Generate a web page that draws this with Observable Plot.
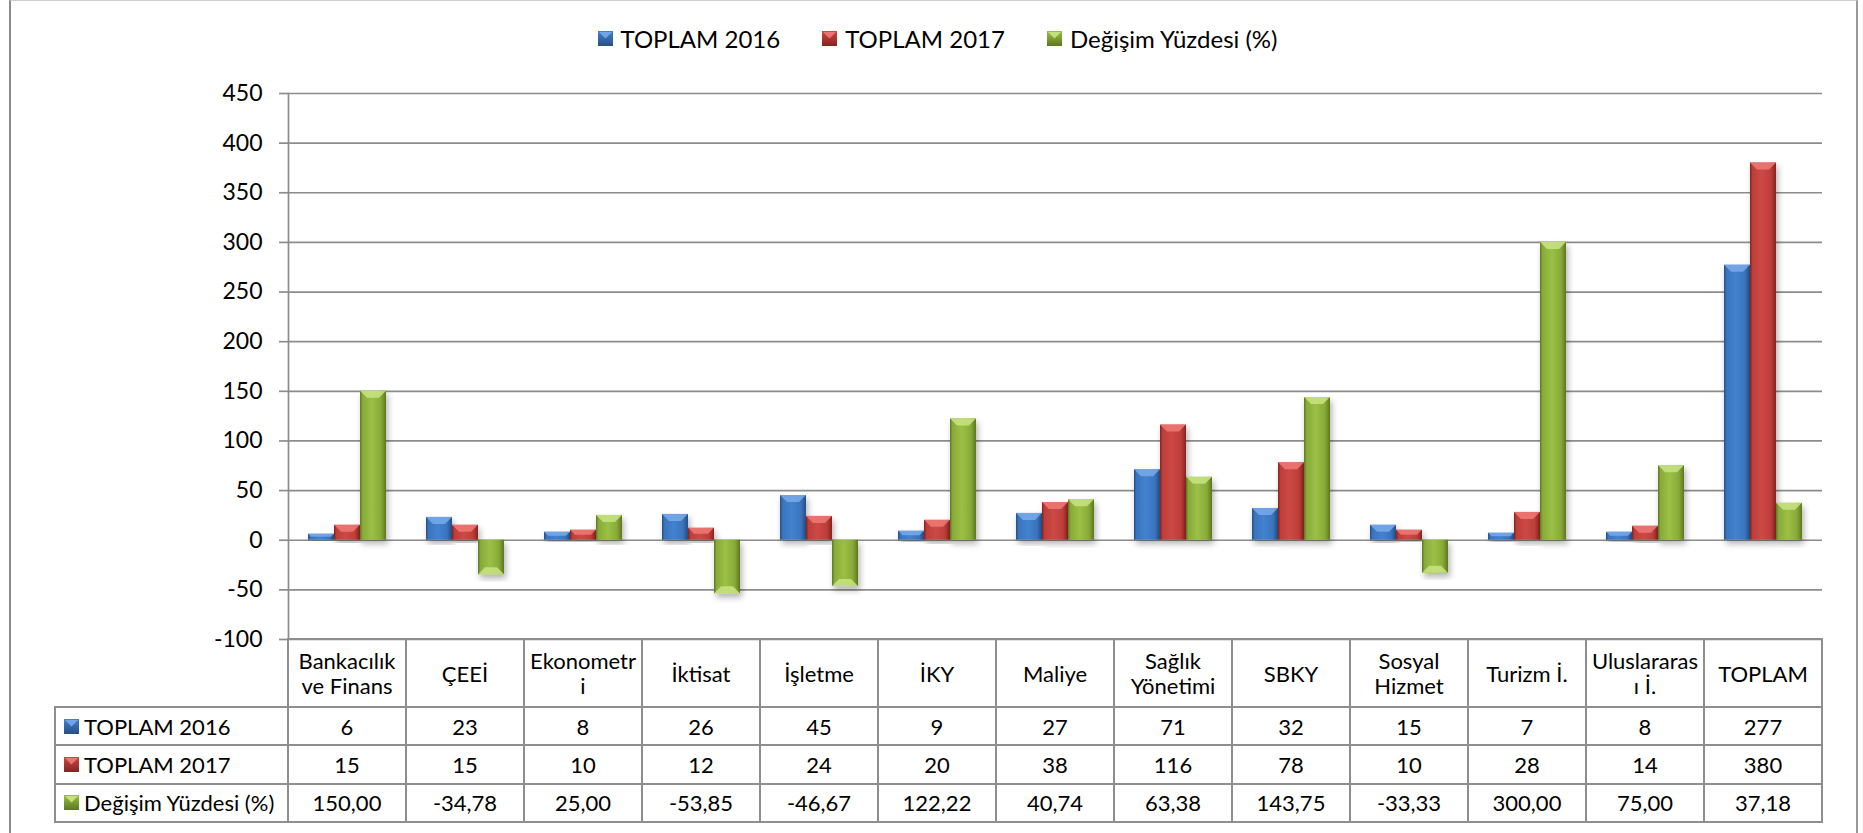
<!DOCTYPE html>
<html><head><meta charset="utf-8">
<script src="https://cdn.jsdelivr.net/npm/d3@7"></script>
<script src="https://cdn.jsdelivr.net/npm/@observablehq/plot@0.6"></script>
<style>
html,body{margin:0;padding:0;background:#fff;}
#wrap{position:relative;width:1863px;height:833px;overflow:hidden;font-family:Lato,"Open Sans",sans-serif;color:#000;}
#frame{position:absolute;left:9px;top:0;width:1849px;height:900px;box-sizing:border-box;border-left:2.5px solid #8a8a8a;border-right:2px solid #9a9a9a;border-top:1px solid #cfcfcf;}
#legend{position:absolute;left:0;top:24px;width:1875px;display:flex;justify-content:center;align-items:center;font-size:24px;}
#legend .item{display:flex;align-items:center;margin:0 21px;}
#legend svg{margin-right:8px;}
.cell{position:absolute;box-sizing:border-box;border:2px solid #8e8e8e;display:flex;align-items:center;justify-content:center;text-align:center;font-size:22px;line-height:25px;background:transparent;}
.lab{justify-content:flex-start;padding-left:8px;}
.lab svg{margin-right:5px;flex:none;}
#plot{position:absolute;left:0;top:0;}
</style></head><body><div id="wrap"><div id="frame"></div><div id="legend"></div><div id="plot"></div></div>
<script>
// ---- data ----
const categories = ["Bankacılık ve Finans","ÇEEİ","Ekonometri","İktisat","İşletme","İKY","Maliye","Sağlık Yönetimi","SBKY","Sosyal Hizmet","Turizm İ.","Uluslararası İ.","TOPLAM"];
const headerLabels = ["Bankacılık\nve Finans","ÇEEİ","Ekonometr\ni","İktisat","İşletme","İKY","Maliye","Sağlık\nYönetimi","SBKY","Sosyal\nHizmet","Turizm İ.","Uluslararas\nı İ.","TOPLAM"];
const seriesNames = ["TOPLAM 2016","TOPLAM 2017","Değişim Yüzdesi (%)"];
const toplam2016 = [6,23,8,26,45,9,27,71,32,15,7,8,277];
const toplam2017 = [15,15,10,12,24,20,38,116,78,10,28,14,380];
const degisim = [150.00,-34.78,25.00,-53.85,-46.67,122.22,40.74,63.38,143.75,-33.33,300.00,75.00,37.18];
const yTicks = [-100,-50,0,50,100,150,200,250,300,350,400,450];

const seriesValues = [toplam2016, toplam2017, degisim];
const rows = seriesNames.flatMap((s,i)=>categories.map((c,j)=>({cat:c, series:s, value:seriesValues[i][j]})));

const palette = [
  {id:"gBlue", dark:"#274f85", mid:"#3a74bd", light:"#4382cf", top:"#79aaea"},
  {id:"gRed", dark:"#85231f", mid:"#bd3e3a", light:"#cc4945", top:"#ee7a76"},
  {id:"gGreen", dark:"#5d7722", mid:"#88ab38", light:"#9bc045", top:"#c8e483"}
];

const plot = Plot.plot({
  width: 1863, height: 833,
  marginLeft: 283, marginRight: 36, marginTop: 93, marginBottom: 194,
  style: {fontFamily: "Lato, 'Open Sans', sans-serif", fontSize: "23px", background: "transparent", color: "#000", overflow: "visible"},
  fx: {domain: categories, padding: 0, axis: null},
  x: {domain: seriesNames, paddingInner: 0, paddingOuter: 0.756, axis: null},
  y: {domain: [-100, 450]},
  marks: [
    Plot.ruleY(yTicks, {stroke: "#8c8c8c", strokeWidth: 1.7}),
    Plot.frame({anchor: "left", facetAnchor: "left", stroke: "#8c8c8c", strokeWidth: 1.7}),
    Plot.axisY({ticks: yTicks, tickSize: 9, tickPadding: 17, stroke: "#8c8c8c", strokeWidth: 1.7, fill: "#000", label: null, fontSize: 23, tickFormat: d => String(d)}),
    ...seriesNames.map((s, i) => Plot.barY(rows.filter(d => d.series === s), {fx: "cat", x: "series", y: "value", fill: `url(#${palette[i].id})`}))
  ]
});
document.getElementById("plot").appendChild(plot);

// gradients, bevels and shadows applied to the bars drawn by Plot
const svg = d3.select(plot);
const defs = svg.insert("defs", ":first-child");
palette.forEach(p => {
  const g = defs.append("linearGradient").attr("id", p.id).attr("x1", 0).attr("x2", 1).attr("y1", 0).attr("y2", 0);
  [[0, p.dark], [0.1, p.mid], [0.45, p.light], [0.8, p.mid], [1, p.dark]].forEach(([o, c]) => g.append("stop").attr("offset", o).attr("stop-color", c));
});
const f = defs.append("filter").attr("id", "shadow").attr("x", "-30%").attr("y", "-10%").attr("width", "160%").attr("height", "130%");
f.append("feDropShadow").attr("dx", 2).attr("dy", 4).attr("stdDeviation", 3).attr("flood-color", "#000").attr("flood-opacity", 0.3);
const y0 = plot.scale("y").apply(0);
palette.forEach(p => {
  plot.querySelectorAll(`g[fill="url(#${p.id})"]`).forEach(gr => {
    gr.setAttribute("filter", "url(#shadow)");
    gr.querySelectorAll("rect").forEach(r => {
      const x = +r.getAttribute("x"), y = +r.getAttribute("y"), w = +r.getAttribute("width"), h = +r.getAttribute("height");
      const b = Math.min(7, h / 2, w / 2);
      const neg = Math.abs(y - y0) < 0.5 && h > 0.5;
      const pts = neg
        ? [[x, y + h], [x + w, y + h], [x + w - b, y + h - b], [x + b, y + h - b]]
        : [[x, y], [x + w, y], [x + w - b, y + b], [x + b, y + b]];
      const poly = document.createElementNS("http://www.w3.org/2000/svg", "polygon");
      poly.setAttribute("points", pts.map(q => q.join(",")).join(" "));
      poly.setAttribute("fill", p.top);
      poly.setAttribute("fill-opacity", 0.85);
      r.parentNode.appendChild(poly);
    });
  });
});

// marker swatch
function swatch(p, size) {
  const s = d3.create("svg").attr("width", size).attr("height", size);
  const gid = "sw" + p.id + Math.random().toString(36).slice(2, 7);
  const lg = s.append("defs").append("linearGradient").attr("id", gid).attr("x1", 0).attr("x2", 0).attr("y1", 0).attr("y2", 1);
  lg.append("stop").attr("offset", 0).attr("stop-color", p.light);
  lg.append("stop").attr("offset", 1).attr("stop-color", p.dark);
  s.append("rect").attr("width", size).attr("height", size).attr("fill", `url(#${gid})`);
  s.append("polygon").attr("points", `1,1 ${size - 1},1 ${size / 2},${size * 0.5}`).attr("fill", p.top).attr("fill-opacity", 0.9);
  return s.node();
}

// legend
const legend = document.getElementById("legend");
seriesNames.forEach((s, i) => {
  const it = document.createElement("div"); it.className = "item";
  it.appendChild(swatch(palette[i], 15));
  const t = document.createElement("span"); t.textContent = s; it.appendChild(t);
  legend.appendChild(it);
});

// data table aligned with Plot's fx scale
const fx = plot.scale("fx");
const bw = fx.bandwidth;
const wrap = document.getElementById("wrap");
const headTop = 639, headBottom = 707, rowH = 38.3, labLeft = 55;
function cell(x, y, w, h, html, cls) {
  const d = document.createElement("div");
  d.className = "cell" + (cls ? " " + cls : "");
  d.style.left = (x - 1) + "px"; d.style.top = (y - 1) + "px";
  d.style.width = (w + 2) + "px"; d.style.height = (h + 2) + "px";
  if (typeof html === "string") d.innerHTML = html; else if (html) d.appendChild(html);
  wrap.appendChild(d);
  return d;
}
categories.forEach((c, j) => {
  cell(fx.apply(c), headTop, bw, headBottom - headTop, headerLabels[j].split("\n").join("<br>"));
});
const firstX = fx.apply(categories[0]);
seriesNames.forEach((s, i) => {
  const top = headBottom + i * rowH;
  const lab = cell(labLeft, top, firstX - labLeft, rowH, null, "lab");
  lab.appendChild(swatch(palette[i], 15));
  const sp = document.createElement("span"); sp.textContent = s; lab.appendChild(sp);
  categories.forEach((c, j) => {
    const v = seriesValues[i][j];
    const txt = i === 2 ? v.toFixed(2).replace(".", ",") : String(v);
    cell(fx.apply(c), top, bw, rowH, txt);
  });
});
</script></body></html>
